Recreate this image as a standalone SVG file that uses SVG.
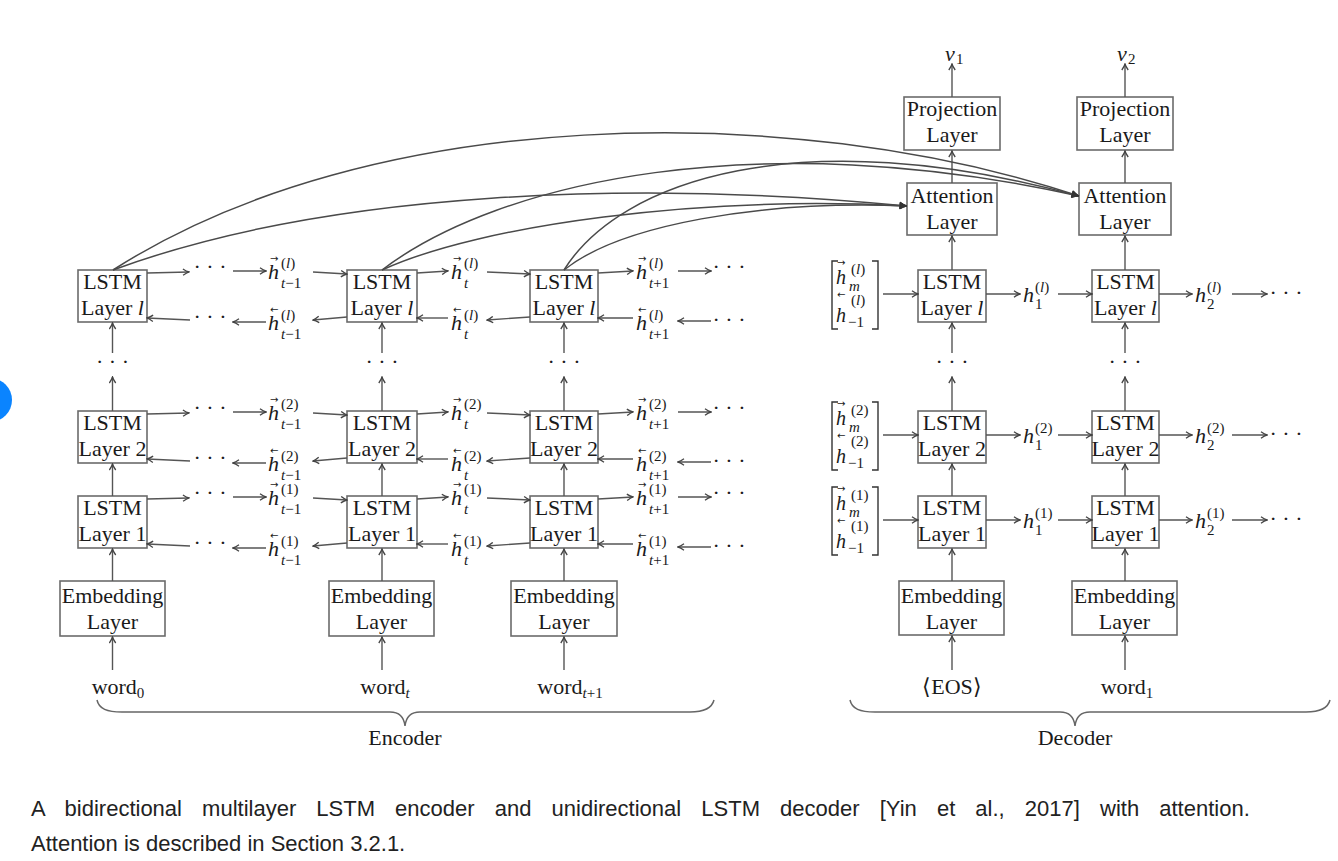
<svg xmlns="http://www.w3.org/2000/svg" width="1338" height="861" viewBox="0 0 1338 861">
<style>
.box{fill:#fff;stroke:#6b6b6b;stroke-width:1.6}
.t{font-family:"Liberation Serif","Times New Roman",serif;font-size:22px;fill:#1a1a1a;text-anchor:middle}
.mi{font-family:"Liberation Serif","Times New Roman",serif;font-style:italic;font-size:22px;fill:#1a1a1a}
.mv{font-family:"Liberation Serif","Times New Roman",serif;font-style:italic;font-size:20px;fill:#1a1a1a}
.sup,.sub{font-family:"Liberation Serif","Times New Roman",serif;font-size:15px;font-style:normal}
.it{font-style:italic}
.acc{font-family:"DejaVu Sans",sans-serif;font-size:10px;font-style:normal}
.dots{font-family:"Liberation Serif","Times New Roman",serif;font-size:22px;fill:#1a1a1a;text-anchor:middle}
.c{fill:none;stroke:#555;stroke-width:1.4;marker-end:url(#ah)}
.cv{fill:none;stroke:#4a4a4a;stroke-width:1.5;marker-end:url(#ah2)}
.br{fill:none;stroke:#333;stroke-width:1.4}
.brace{fill:none;stroke:#666;stroke-width:1.5}
.cap{font-family:"Liberation Sans",Arial,sans-serif;font-size:22px;fill:#222}
</style>
<defs>
<marker id="ah" viewBox="-7 -4 8 8" refX="0" refY="0" markerWidth="8" markerHeight="8" markerUnits="userSpaceOnUse" orient="auto">
<path d="M-6,-3.2 Q-2.5,-0.7 0,0 Q-2.5,0.7 -6,3.2" fill="none" stroke="#444" stroke-width="1.3"/>
</marker>
<marker id="ah2" viewBox="-8 -4 9 8" refX="0" refY="0" markerWidth="9" markerHeight="8" markerUnits="userSpaceOnUse" orient="auto">
<path d="M-7,-3.2 Q-3,-0.8 0,0 Q-3,0.8 -7,3.2 Z" fill="#333" stroke="#333" stroke-width="0.8"/>
</marker>
</defs>
<rect width="1338" height="861" fill="#fff"/>
<circle cx="-10" cy="400" r="22" fill="#0a84ff"/>

<!-- Encoder nodes -->
<g id="enc-emb-0"><rect class="box" x="60" y="581" width="105" height="55"/><text class="t" x="112.5" y="603">Embedding</text><text class="t" x="112.5" y="629">Layer</text></g>
<g id="enc-emb-t"><rect class="box" x="329" y="581" width="105" height="55"/><text class="t" x="381.5" y="603">Embedding</text><text class="t" x="381.5" y="629">Layer</text></g>
<g id="enc-emb-t1"><rect class="box" x="511" y="581" width="106" height="55"/><text class="t" x="564" y="603">Embedding</text><text class="t" x="564" y="629">Layer</text></g>

<g id="enc-l1-0"><rect class="box" x="78" y="496" width="69" height="52"/><text class="t" x="112.5" y="515">LSTM</text><text class="t" x="112.5" y="541">Layer 1</text></g>
<g id="enc-l1-t"><rect class="box" x="347" y="496" width="70" height="52"/><text class="t" x="382" y="515">LSTM</text><text class="t" x="382" y="541">Layer 1</text></g>
<g id="enc-l1-t1"><rect class="box" x="530" y="496" width="68" height="52"/><text class="t" x="564" y="515">LSTM</text><text class="t" x="564" y="541">Layer 1</text></g>

<g id="enc-l2-0"><rect class="box" x="78" y="411" width="69" height="52"/><text class="t" x="112.5" y="430">LSTM</text><text class="t" x="112.5" y="456">Layer 2</text></g>
<g id="enc-l2-t"><rect class="box" x="347" y="411" width="70" height="52"/><text class="t" x="382" y="430">LSTM</text><text class="t" x="382" y="456">Layer 2</text></g>
<g id="enc-l2-t1"><rect class="box" x="530" y="411" width="68" height="52"/><text class="t" x="564" y="430">LSTM</text><text class="t" x="564" y="456">Layer 2</text></g>

<g id="enc-ll-0"><rect class="box" x="78" y="270" width="69" height="52"/><text class="t" x="112.5" y="289">LSTM</text><text class="t" x="112.5" y="315">Layer <tspan class="it">l</tspan></text></g>
<g id="enc-ll-t"><rect class="box" x="347" y="270" width="70" height="52"/><text class="t" x="382" y="289">LSTM</text><text class="t" x="382" y="315">Layer <tspan class="it">l</tspan></text></g>
<g id="enc-ll-t1"><rect class="box" x="530" y="270" width="68" height="52"/><text class="t" x="564" y="289">LSTM</text><text class="t" x="564" y="315">Layer <tspan class="it">l</tspan></text></g>

<!-- Decoder nodes -->
<g id="dec-emb-1"><rect class="box" x="899" y="581" width="105" height="54"/><text class="t" x="951.5" y="603">Embedding</text><text class="t" x="951.5" y="629">Layer</text></g>
<g id="dec-emb-2"><rect class="box" x="1072" y="581" width="105" height="54"/><text class="t" x="1124.5" y="603">Embedding</text><text class="t" x="1124.5" y="629">Layer</text></g>
<g id="dec-l1-1"><rect class="box" x="918" y="496" width="68" height="52"/><text class="t" x="952" y="515">LSTM</text><text class="t" x="952" y="541">Layer 1</text></g>
<g id="dec-l1-2"><rect class="box" x="1092" y="496" width="67" height="52"/><text class="t" x="1125.5" y="515">LSTM</text><text class="t" x="1125.5" y="541">Layer 1</text></g>
<g id="dec-l2-1"><rect class="box" x="918" y="411" width="68" height="52"/><text class="t" x="952" y="430">LSTM</text><text class="t" x="952" y="456">Layer 2</text></g>
<g id="dec-l2-2"><rect class="box" x="1092" y="411" width="67" height="52"/><text class="t" x="1125.5" y="430">LSTM</text><text class="t" x="1125.5" y="456">Layer 2</text></g>
<g id="dec-ll-1"><rect class="box" x="918" y="270" width="68" height="52"/><text class="t" x="952" y="289">LSTM</text><text class="t" x="952" y="315">Layer <tspan class="it">l</tspan></text></g>
<g id="dec-ll-2"><rect class="box" x="1092" y="270" width="67" height="52"/><text class="t" x="1125.5" y="289">LSTM</text><text class="t" x="1125.5" y="315">Layer <tspan class="it">l</tspan></text></g>
<g id="dec-att-1"><rect class="box" x="907" y="183" width="90" height="52"/><text class="t" x="952" y="203">Attention</text><text class="t" x="952" y="229">Layer</text></g>
<g id="dec-att-2"><rect class="box" x="1079" y="183" width="92" height="52"/><text class="t" x="1125" y="203">Attention</text><text class="t" x="1125" y="229">Layer</text></g>
<g id="dec-proj-1"><rect class="box" x="904" y="97" width="96" height="53"/><text class="t" x="952" y="116">Projection</text><text class="t" x="952" y="142">Layer</text></g>
<g id="dec-proj-2"><rect class="box" x="1077" y="97" width="96" height="53"/><text class="t" x="1125" y="116">Projection</text><text class="t" x="1125" y="142">Layer</text></g>

<!-- Connectors -->
<g id="connectors">
<path class="c" d="M112.5,670V637"/><path class="c" d="M112.5,581V549"/><path class="c" d="M112.5,496V464"/><path class="c" d="M112.5,411V377"/><path class="c" d="M112.5,353V323"/>
<path class="c" d="M382,670V637"/><path class="c" d="M382,581V549"/><path class="c" d="M382,496V464"/><path class="c" d="M382,411V377"/><path class="c" d="M382,353V323"/>
<path class="c" d="M564,670V637"/><path class="c" d="M564,581V549"/><path class="c" d="M564,496V464"/><path class="c" d="M564,411V377"/><path class="c" d="M564,353V323"/>
<path class="c" d="M952,670V636"/><path class="c" d="M952,581V549"/><path class="c" d="M952,496V464"/><path class="c" d="M952,411V377"/><path class="c" d="M952,353V323"/><path class="c" d="M952,270V236"/><path class="c" d="M952,183V151"/><path class="c" d="M952,97V64"/>
<path class="c" d="M1125,670V636"/><path class="c" d="M1125,581V549"/><path class="c" d="M1125,496V464"/><path class="c" d="M1125,411V377"/><path class="c" d="M1125,353V323"/><path class="c" d="M1125,270V236"/><path class="c" d="M1125,183V151"/><path class="c" d="M1125,97V64"/>

<path class="c" d="M147,273L189,272"/><path class="c" d="M233,271L266,271"/><path class="c" d="M313,272L347,274"/>
<path class="c" d="M417,273L448,271"/><path class="c" d="M487,272L530,274"/><path class="c" d="M598,273L633,271"/><path class="c" d="M678,271L711,271"/>
<path class="c" d="M190,320L147,318"/><path class="c" d="M266,322L233,322"/><path class="c" d="M347,317L313,320"/>
<path class="c" d="M448,318L417,318"/><path class="c" d="M530,317L487,320"/><path class="c" d="M633,318L598,318"/><path class="c" d="M711,321L678,321"/>
<path class="c" d="M147,414L189,413"/><path class="c" d="M233,412L266,412"/><path class="c" d="M313,413L347,415"/>
<path class="c" d="M417,414L448,412"/><path class="c" d="M487,413L530,415"/><path class="c" d="M598,414L633,412"/><path class="c" d="M678,412L711,412"/>
<path class="c" d="M190,461L147,459"/><path class="c" d="M266,463L233,463"/><path class="c" d="M347,458L313,461"/>
<path class="c" d="M448,459L417,459"/><path class="c" d="M530,458L487,461"/><path class="c" d="M633,459L598,459"/><path class="c" d="M711,462L678,462"/>
<path class="c" d="M147,499L189,498"/><path class="c" d="M233,497L266,497"/><path class="c" d="M313,498L347,500"/>
<path class="c" d="M417,499L448,497"/><path class="c" d="M487,498L530,500"/><path class="c" d="M598,499L633,497"/><path class="c" d="M678,497L711,497"/>
<path class="c" d="M190,546L147,544"/><path class="c" d="M266,548L233,548"/><path class="c" d="M347,543L313,546"/>
<path class="c" d="M448,544L417,544"/><path class="c" d="M530,543L487,546"/><path class="c" d="M633,544L598,544"/><path class="c" d="M711,547L678,547"/>

<path class="c" d="M883,294H918"/><path class="c" d="M986,294H1020"/><path class="c" d="M1058,294H1092"/><path class="c" d="M1159,294H1192"/><path class="c" d="M1232,294H1267"/>
<path class="c" d="M883,435H918"/><path class="c" d="M986,435H1020"/><path class="c" d="M1058,435H1092"/><path class="c" d="M1159,435H1192"/><path class="c" d="M1232,435H1267"/>
<path class="c" d="M883,520H918"/><path class="c" d="M986,520H1020"/><path class="c" d="M1058,520H1092"/><path class="c" d="M1159,520H1192"/><path class="c" d="M1232,520H1267"/>

<path class="cv" d="M113,270C370,105 790,100 1079,196"/>
<path class="cv" d="M113,270C330,190 640,180 907,206"/>
<path class="cv" d="M382,270C500,180 760,125 1079,196"/>
<path class="cv" d="M382,270C480,225 700,195 907,206"/>
<path class="cv" d="M564,270C620,180 800,120 1079,196"/>
<path class="cv" d="M564,270C620,225 760,200 907,206"/>
</g>

<!-- Dots -->
<g id="dots">
<text class="dots" x="210" y="274">· · ·</text><text class="dots" x="210" y="324">· · ·</text>
<text class="dots" x="729" y="274">· · ·</text><text class="dots" x="729" y="327">· · ·</text>
<text class="dots" x="210" y="415">· · ·</text><text class="dots" x="210" y="465">· · ·</text>
<text class="dots" x="729" y="415">· · ·</text><text class="dots" x="729" y="468">· · ·</text>
<text class="dots" x="210" y="500">· · ·</text><text class="dots" x="210" y="550">· · ·</text>
<text class="dots" x="729" y="500">· · ·</text><text class="dots" x="729" y="553">· · ·</text>
<text class="dots" x="112.5" y="369">· · ·</text><text class="dots" x="382" y="369">· · ·</text><text class="dots" x="564" y="369">· · ·</text>
<text class="dots" x="952" y="369">· · ·</text><text class="dots" x="1125" y="369">· · ·</text>
<text class="dots" x="1286" y="300">· · ·</text><text class="dots" x="1286" y="441">· · ·</text><text class="dots" x="1286" y="526">· · ·</text>
</g>

<!-- Encoder hidden-state labels -->
<g id="enc-labels">
<text class="mi" x="268" y="279">h<tspan class="acc" x="270" y="262">→</tspan><tspan class="sup" x="281" y="268">(<tspan class="it">l</tspan>)</tspan><tspan class="sub" x="281" y="288"><tspan class="it">t</tspan>−1</tspan></text>
<text class="mi" x="451" y="279">h<tspan class="acc" x="453" y="262">→</tspan><tspan class="sup" x="464" y="268">(<tspan class="it">l</tspan>)</tspan><tspan class="sub it" x="464" y="288">t</tspan></text>
<text class="mi" x="636" y="279">h<tspan class="acc" x="638" y="262">→</tspan><tspan class="sup" x="649" y="268">(<tspan class="it">l</tspan>)</tspan><tspan class="sub" x="649" y="288"><tspan class="it">t</tspan>+1</tspan></text>
<text class="mi" x="268" y="330">h<tspan class="acc" x="270" y="313">←</tspan><tspan class="sup" x="281" y="320">(<tspan class="it">l</tspan>)</tspan><tspan class="sub" x="281" y="339"><tspan class="it">t</tspan>−1</tspan></text>
<text class="mi" x="451" y="330">h<tspan class="acc" x="453" y="313">←</tspan><tspan class="sup" x="464" y="320">(<tspan class="it">l</tspan>)</tspan><tspan class="sub it" x="464" y="339">t</tspan></text>
<text class="mi" x="636" y="330">h<tspan class="acc" x="638" y="313">←</tspan><tspan class="sup" x="649" y="320">(<tspan class="it">l</tspan>)</tspan><tspan class="sub" x="649" y="339"><tspan class="it">t</tspan>+1</tspan></text>

<text class="mi" x="268" y="420">h<tspan class="acc" x="270" y="403">→</tspan><tspan class="sup" x="281" y="409">(2)</tspan><tspan class="sub" x="281" y="429"><tspan class="it">t</tspan>−1</tspan></text>
<text class="mi" x="451" y="420">h<tspan class="acc" x="453" y="403">→</tspan><tspan class="sup" x="464" y="409">(2)</tspan><tspan class="sub it" x="464" y="429">t</tspan></text>
<text class="mi" x="636" y="420">h<tspan class="acc" x="638" y="403">→</tspan><tspan class="sup" x="649" y="409">(2)</tspan><tspan class="sub" x="649" y="429"><tspan class="it">t</tspan>+1</tspan></text>
<text class="mi" x="268" y="471">h<tspan class="acc" x="270" y="454">←</tspan><tspan class="sup" x="281" y="461">(2)</tspan><tspan class="sub" x="281" y="480"><tspan class="it">t</tspan>−1</tspan></text>
<text class="mi" x="451" y="471">h<tspan class="acc" x="453" y="454">←</tspan><tspan class="sup" x="464" y="461">(2)</tspan><tspan class="sub it" x="464" y="480">t</tspan></text>
<text class="mi" x="636" y="471">h<tspan class="acc" x="638" y="454">←</tspan><tspan class="sup" x="649" y="461">(2)</tspan><tspan class="sub" x="649" y="480"><tspan class="it">t</tspan>+1</tspan></text>

<text class="mi" x="268" y="505">h<tspan class="acc" x="270" y="488">→</tspan><tspan class="sup" x="281" y="494">(1)</tspan><tspan class="sub" x="281" y="514"><tspan class="it">t</tspan>−1</tspan></text>
<text class="mi" x="451" y="505">h<tspan class="acc" x="453" y="488">→</tspan><tspan class="sup" x="464" y="494">(1)</tspan><tspan class="sub it" x="464" y="514">t</tspan></text>
<text class="mi" x="636" y="505">h<tspan class="acc" x="638" y="488">→</tspan><tspan class="sup" x="649" y="494">(1)</tspan><tspan class="sub" x="649" y="514"><tspan class="it">t</tspan>+1</tspan></text>
<text class="mi" x="268" y="556">h<tspan class="acc" x="270" y="539">←</tspan><tspan class="sup" x="281" y="546">(1)</tspan><tspan class="sub" x="281" y="565"><tspan class="it">t</tspan>−1</tspan></text>
<text class="mi" x="451" y="556">h<tspan class="acc" x="453" y="539">←</tspan><tspan class="sup" x="464" y="546">(1)</tspan><tspan class="sub it" x="464" y="565">t</tspan></text>
<text class="mi" x="636" y="556">h<tspan class="acc" x="638" y="539">←</tspan><tspan class="sup" x="649" y="546">(1)</tspan><tspan class="sub" x="649" y="565"><tspan class="it">t</tspan>+1</tspan></text>
</g>

<!-- Decoder initial state vectors -->
<g id="dec-init">
<path class="br" d="M838,261H832V329H838M872,261H878V329H872"/>
<text class="mv" x="836" y="284">h<tspan class="acc" x="837" y="266">→</tspan><tspan class="sup" x="851" y="274">(<tspan class="it">l</tspan>)</tspan><tspan class="sub it" x="849" y="291">m</tspan></text>
<text class="mv" x="836" y="322">h<tspan class="acc" x="837" y="298">←</tspan><tspan class="sup" x="851" y="305">(<tspan class="it">l</tspan>)</tspan><tspan class="sub" x="848" y="327">−1</tspan></text>
<path class="br" d="M838,402H832V470H838M872,402H878V470H872"/>
<text class="mv" x="836" y="425">h<tspan class="acc" x="837" y="407">→</tspan><tspan class="sup" x="851" y="415">(2)</tspan><tspan class="sub it" x="849" y="432">m</tspan></text>
<text class="mv" x="836" y="463">h<tspan class="acc" x="837" y="439">←</tspan><tspan class="sup" x="851" y="446">(2)</tspan><tspan class="sub" x="848" y="468">−1</tspan></text>
<path class="br" d="M838,487H832V555H838M872,487H878V555H872"/>
<text class="mv" x="836" y="510">h<tspan class="acc" x="837" y="492">→</tspan><tspan class="sup" x="851" y="500">(1)</tspan><tspan class="sub it" x="849" y="517">m</tspan></text>
<text class="mv" x="836" y="548">h<tspan class="acc" x="837" y="524">←</tspan><tspan class="sup" x="851" y="531">(1)</tspan><tspan class="sub" x="848" y="553">−1</tspan></text>
</g>

<!-- Decoder hidden-state labels -->
<g id="dec-labels">
<text class="mi" x="1023" y="302">h<tspan class="sup" x="1035" y="292">(<tspan class="it">l</tspan>)</tspan><tspan class="sub" x="1035" y="309">1</tspan></text>
<text class="mi" x="1195" y="302">h<tspan class="sup" x="1207" y="292">(<tspan class="it">l</tspan>)</tspan><tspan class="sub" x="1207" y="309">2</tspan></text>
<text class="mi" x="1023" y="443">h<tspan class="sup" x="1035" y="433">(2)</tspan><tspan class="sub" x="1035" y="450">1</tspan></text>
<text class="mi" x="1195" y="443">h<tspan class="sup" x="1207" y="433">(2)</tspan><tspan class="sub" x="1207" y="450">2</tspan></text>
<text class="mi" x="1023" y="528">h<tspan class="sup" x="1035" y="518">(1)</tspan><tspan class="sub" x="1035" y="535">1</tspan></text>
<text class="mi" x="1195" y="528">h<tspan class="sup" x="1207" y="518">(1)</tspan><tspan class="sub" x="1207" y="535">2</tspan></text>
</g>

<!-- Outputs and inputs -->
<g id="outputs">
<text class="mi" x="945" y="61">v<tspan class="sub" x="956" y="64">1</tspan></text>
<text class="mi" x="1117" y="61">v<tspan class="sub" x="1128" y="64">2</tspan></text>
</g>
<g id="inputs">
<text class="t" x="118" y="694">word<tspan font-size="15px" dy="4">0</tspan></text>
<text class="t" x="385" y="694">word<tspan font-size="15px" dy="4" font-style="italic">t</tspan></text>
<text class="t" x="570" y="694">word<tspan font-size="15px" dy="4"><tspan font-style="italic">t</tspan>+1</tspan></text>
<text class="t" x="952" y="694">⟨EOS⟩</text>
<text class="t" x="1127" y="694">word<tspan font-size="15px" dy="4">1</tspan></text>
</g>

<!-- Braces -->
<g id="enc-brace">
<path class="brace" d="M97,700C99,709 107,712 122,712L390,712C399,712 404,717 405,726C406,717 411,712 420,712L690,712C705,712 712,708 714,700"/>
<text class="t" x="405" y="745">Encoder</text>
</g>
<g id="dec-brace">
<path class="brace" d="M850,700C852,709 860,712 875,712L1060,712C1069,712 1074,717 1075,726C1076,717 1081,712 1090,712L1306,712C1321,712 1328,708 1330,700"/>
<text class="t" x="1075" y="745">Decoder</text>
</g>

<!-- Caption -->
<g id="caption">
<text class="cap" x="31" y="816" style="word-spacing:14px">A bidirectional multilayer LSTM encoder and unidirectional LSTM decoder [Yin et al., 2017] with attention.</text>
<text class="cap" x="31" y="851">Attention is described in Section 3.2.1.</text>
</g>
</svg>
